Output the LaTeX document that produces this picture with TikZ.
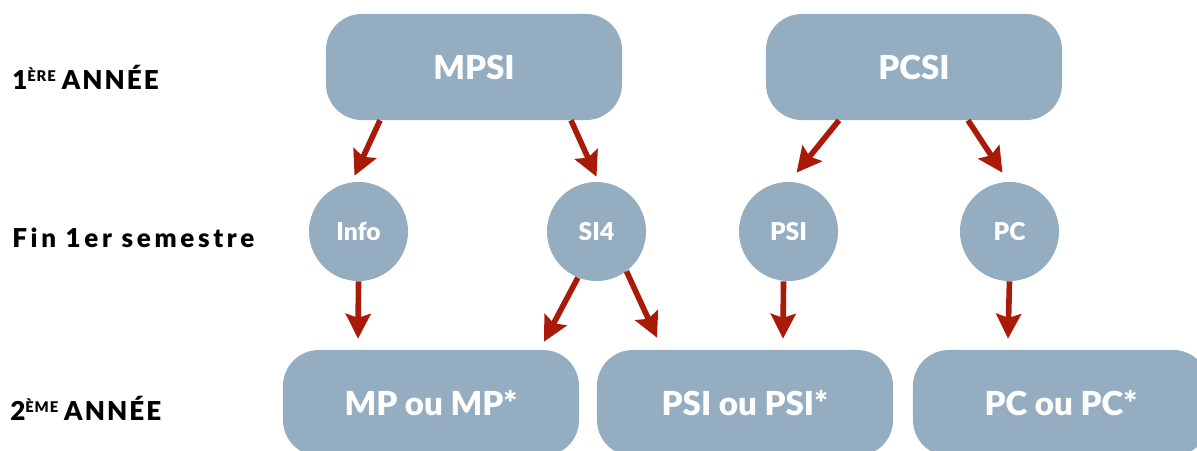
\documentclass[tikz,border=0pt]{standalone}
\usepackage{fontspec}
\setmainfont{Lato}[BoldFont={Lato Black}]
\usetikzlibrary{positioning,calc,arrows.meta}
\definecolor{boxblue}{HTML}{94ADC1}
\definecolor{arrowred}{HTML}{AA1A08}
\newcommand{\expo}[1]{\raisebox{5.5pt}{\fontsize{10.5}{12}\selectfont\addfontfeature{LetterSpace=6}#1}}
\tikzset{
  filiere/.style={rectangle, rounded corners=0.9cm, fill=boxblue, minimum width=7.4cm,
    minimum height=2.65cm, text=white, font=\fontsize{23.5}{28}\selectfont\bfseries},
  option/.style={circle, fill=boxblue, minimum size=2.475cm, inner sep=0pt, text=white,
    font=\fontsize{17.5}{20}\selectfont\bfseries},
  annee/.style={anchor=west, inner sep=0pt, font=\fontsize{18.5}{22}\selectfont\bfseries},
  fleche/.style={draw=arrowred, line width=4pt, -{Stealth[length=0.62cm, width=0.62cm, inset=0.1cm]}}
}
\begin{document}
\begin{tikzpicture}[x=0.025cm, y=-0.025cm]
    \useasboundingbox (0,0) rectangle (1197,450);

    % annees
    \node [annee] (annee1) at (12,77) {1\expo{ÈRE} {\addfontfeature{LetterSpace=8}ANNÉE}};
    \node [annee] (semestre) at (12,238) {\addfontfeature{LetterSpace=14}Fin 1er semestre};
    \node [annee] (annee2) at (10,408) {2\expo{ÈME} {\addfontfeature{LetterSpace=8}ANNÉE}};

    % premiere annee
    \node [filiere] (mpsi) at (474,67) {MPSI};
    \node [filiere] (pcsi) at (914,67) {PCSI};

    % options du premier semestre
    \node [option] (info) at (358.5,231.5) {Info};
    \node [option] (si) at (596.5,231.5) {SI4};
    \node [option] (psi) at (788.5,231.5) {PSI};
    \node [option] (pc) at (1009.5,231.5) {PC};

    % deuxieme annee
    \node [filiere] (mp2) at (431,403) {MP ou MP*};
    \node [filiere] (psi2) at (745,403) {PSI ou PSI*};
    \node [filiere] (pc2) at (1061,403) {PC ou PC*};

    \draw[fleche] ($(mpsi.south)+(-94,0)$) -- ($(info.north)+(-4,-6)$);
    \draw[fleche] ($(mpsi.south)+(97,0)$) -- ($(si.north)+(0,-5)$);
    \draw[fleche] ($(pcsi.south)+(-75,0)$) -- ($(psi.north)+(8,-9)$);
    \draw[fleche] ($(pcsi.south)+(54,0)$) -- ($(pc.north)+(-7,-9)$);

    \draw[fleche] (info.south) -- ($(mp2.north)+(-73,-11)$);
    \draw[fleche] (si.-112) -- ($(mp2.north)+(113,-8)$);
    \draw[fleche] (si.-53) -- ($(psi2.north)+(-88,-12)$);
    \draw[fleche] ($(psi.south)+(-5,0)$) -- ($(psi2.north)+(38,-11)$);
    \draw[fleche] (pc.south) -- ($(pc2.north)+(-53,-11)$);

\end{tikzpicture}
\end{document}
